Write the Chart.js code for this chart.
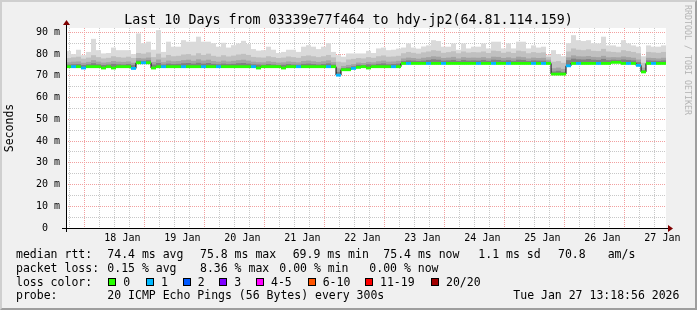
<!DOCTYPE html>
<html><head><meta charset="utf-8">
<script src="https://cdn.jsdelivr.net/npm/chart.js@4/dist/chart.umd.min.js"></script>
<style>
html,body{margin:0;padding:0;background:#f0f0f0;}
#wrap{position:relative;width:697px;height:310px;overflow:hidden;background:#f0f0f0;font-family:"DejaVu Sans Mono",monospace;color:#000;}
#frame{position:absolute;left:0;top:0;width:697px;height:310px;box-sizing:border-box;border-top:2px solid #cfcfcf;border-left:2px solid #cfcfcf;border-right:2px solid #9e9e9e;border-bottom:2px solid #9e9e9e;pointer-events:none;}
canvas{position:absolute;left:0;top:0;}
.t{position:absolute;white-space:pre;font-size:11.5px;line-height:14px;}
#title{position:absolute;left:0;width:697px;top:12px;text-align:center;font-size:13.3px;line-height:16px;white-space:pre;}
#tag{position:absolute;left:682px;top:5px;font-size:8.3px;line-height:10px;color:#b4b4b4;white-space:pre;transform-origin:0 0;transform:translate(11px,0) rotate(90deg);}
.sq{position:absolute;width:6px;height:6px;border:1px solid #000;}
</style></head>
<body>
<div id="wrap">
<canvas id="c" width="697" height="310"></canvas>
<div id="title">Last 10 Days from 03339e77f464 to hdy-jp2(64.81.114.159)</div>
<div id="tag">RRDTOOL / TOBI OETIKER</div>
<div id="legend"></div>
<div id="frame"></div>
</div>
<script>
// ---- data ----
const dayLabels = ['18 Jan','19 Jan','20 Jan','21 Jan','22 Jan','23 Jan','24 Jan','25 Jan','26 Jan','27 Jan'];
const yTicks = [0,5,10,15,20,25,30,35,40,45,50,55,60,65,70,75,80,85,90];
// 120 two-hour bins, ms
const median = [
74.2,74.2,74.2,73.6,74.2,74.2,74.2,73.6,74.2,73.6,74.2,74.2,74.2,73.4,76.0,76.0,76.0,73.6,74.2,74.2,
74.2,74.2,74.2,74.2,74.2,74.2,74.2,74.2,74.2,74.2,74.2,74.2,74.2,74.2,74.2,74.2,74.2,74.2,73.6,74.2,
74.2,74.2,74.2,73.6,74.2,74.2,74.2,74.2,74.2,74.2,74.2,74.2,74.2,74.2,70.3,72.8,72.8,73.4,73.9,74.2,
73.6,74.2,74.2,74.2,74.2,74.2,74.2,75.7,75.7,75.7,75.7,75.7,75.7,75.7,75.7,75.7,75.7,75.7,75.7,75.7,
75.7,75.7,75.7,75.7,75.7,75.7,75.7,75.7,75.7,75.7,75.7,75.7,75.7,75.7,75.7,75.7,75.7,70.8,70.8,70.8,
74.6,75.7,75.7,75.7,75.7,75.7,75.7,75.7,75.7,76.2,76.2,75.7,75.7,75.7,74.8,71.8,75.7,75.7,75.7,75.7];
const lostPings = [
0,1,0,1,0,0,0,0,0,0,0,0,0,1,0,1,0,0,0,1,
0,0,0,1,0,0,0,1,0,0,1,0,0,0,0,0,0,1,0,0,
0,0,0,0,0,0,1,0,0,0,0,0,1,0,1,0,0,1,0,0,
0,0,0,0,0,1,0,0,1,0,0,0,1,0,0,1,0,0,0,0,
0,0,1,0,0,1,0,0,1,0,0,0,0,1,0,1,0,0,0,0,
1,0,1,0,0,0,1,0,0,0,0,0,1,0,1,0,0,1,0,0];
const smokeMax = [
81.4,80.0,82.0,79.5,81.0,87.0,81.8,80.3,80.5,83.0,81.8,81.8,81.8,80.0,89.5,85.0,85.7,82.0,91.0,81.0,
85.7,83.4,83.4,86.4,85.7,85.7,88.0,85.7,85.7,85.0,83.4,85.2,83.0,84.1,84.9,86.1,84.6,82.3,81.6,81.8,
83.4,82.0,80.5,81.0,82.0,82.0,81.0,83.4,84.1,83.4,82.3,83.4,85.0,81.0,79.5,78.8,80.3,80.3,80.3,80.3,
81.5,80.5,82.6,83.0,81.8,82.0,82.5,83.0,84.9,83.0,82.5,83.5,84.0,86.4,86.0,83.4,83.4,84.9,82.0,84.9,
82.6,83.4,83.4,84.9,82.6,85.7,85.7,82.6,84.9,82.6,85.7,85.7,82.6,84.0,83.0,83.4,79.5,81.8,80.0,79.0,
85.0,88.7,86.4,86.0,86.4,85.0,84.9,88.0,84.0,84.0,83.4,86.4,84.9,84.0,83.4,79.0,84.0,83.4,83.4,84.0];
const smokeP90 = [
78.2,78.5,78.8,77.9,78.4,79.5,78.6,78.0,78.3,79.0,78.6,78.4,78.8,78.2,80.5,80.2,80.8,78.6,80.2,78.4,
79.6,79.0,79.2,79.8,80.0,79.4,80.4,79.6,80.2,79.2,78.8,79.5,78.9,79.3,79.8,80.1,79.6,78.7,78.5,78.4,
79.0,78.6,78.2,78.4,78.9,78.6,78.3,79.1,79.4,79.0,78.6,79.0,79.6,78.5,76.5,76.2,77.5,77.8,78.2,78.0,
78.6,78.3,79.0,79.4,78.8,78.9,79.2,80.4,81.0,80.6,80.2,80.8,81.2,81.8,81.5,80.6,80.9,81.3,80.4,81.2,
80.7,80.9,80.8,81.2,80.5,81.6,81.4,80.6,81.1,80.5,81.6,81.3,80.4,80.9,80.6,80.8,78.6,76.5,76.8,76.0,
81.2,82.6,82.0,81.8,82.2,81.5,81.4,82.4,81.2,81.0,80.8,81.8,81.4,81.0,80.4,76.0,81.0,80.8,80.6,81.0];
const smokeP75 = [
76.3,76.5,76.6,76.0,76.4,77.2,76.5,76.1,76.3,76.8,76.5,76.4,76.6,76.0,78.2,78.0,78.4,76.4,77.5,76.3,
77.0,76.7,76.8,77.2,77.4,76.9,77.6,77.0,77.4,76.8,76.5,77.0,76.6,76.9,77.2,77.4,77.0,76.5,76.3,76.2,
76.7,76.4,76.1,76.2,76.6,76.4,76.2,76.8,77.0,76.7,76.4,76.7,77.1,76.3,73.5,74.5,75.0,75.4,76.1,75.9,
76.4,76.2,76.7,77.0,76.5,76.6,76.9,78.0,78.4,78.2,77.9,78.3,78.6,79.0,78.8,78.2,78.4,78.7,78.0,78.6,
78.3,78.4,78.3,78.6,78.1,78.8,78.7,78.2,78.5,78.1,78.8,78.6,78.0,78.4,78.2,78.3,77.4,73.5,73.8,73.2,
78.5,79.4,79.0,78.9,79.1,78.7,78.6,79.2,78.5,78.6,78.5,78.9,78.6,78.3,77.5,73.8,78.3,78.2,78.0,78.3];
const smokeP60 = [
75.2,75.3,75.4,75.0,75.3,75.8,75.3,75.0,75.2,75.5,75.3,75.2,75.4,75.0,77.0,76.9,77.2,75.2,75.9,75.2,
75.6,75.4,75.5,75.8,75.9,75.6,76.0,75.6,75.9,75.5,75.3,75.6,75.4,75.5,75.8,75.9,75.6,75.3,75.2,75.1,
75.4,75.2,75.0,75.1,75.4,75.2,75.1,75.5,75.6,75.4,75.2,75.4,75.7,75.2,71.8,73.6,73.9,74.4,75.1,75.0,
75.3,75.2,75.5,75.7,75.3,75.4,75.6,76.8,77.1,77.0,76.8,77.0,77.3,77.6,77.4,77.0,77.1,77.3,76.8,77.3,
77.0,77.1,77.0,77.3,76.9,77.4,77.3,77.0,77.2,76.9,77.4,77.3,76.8,77.1,77.0,77.0,76.5,72.0,72.3,71.8,
77.2,77.9,77.6,77.5,77.7,77.4,77.3,77.8,77.2,77.4,77.3,77.5,77.3,77.1,76.3,72.6,77.1,77.0,76.9,77.1];
const lossBuckets = [
  {label:'0', max:0, color:'#26ff00'}, {label:'1', max:1, color:'#00b8ff'},
  {label:'2', max:2, color:'#0059ff'}, {label:'3', max:3, color:'#7e00ff'},
  {label:'4-5', max:5, color:'#ff00ff'}, {label:'6-10', max:10, color:'#ff5500'},
  {label:'11-19', max:19, color:'#ff0000'}, {label:'20/20', max:20, color:'#a10000'}];
const statsRtt = ['74.4 ms avg','75.8 ms max','69.9 ms min','75.4 ms now','1.1 ms sd','70.8','am/s'];
const statsLoss = ['0.15 % avg','8.36 % max','0.00 % min','0.00 % now'];
const probeText = '20 ICMP Echo Pings (56 Bytes) every 300s';
const stampText = 'Tue Jan 27 13:18:56 2026';

// ---- time axis (hours since 17 Jan 00:00) ----
const END_H = 253.45, SPAN_H = 240, BIN_H = 2;
const START_H = END_H - SPAN_H;
const centers = median.map((_, i) => START_H + BIN_H * (i + 0.5));
const lossColor = n => (lossBuckets.find(b => n <= b.max) || lossBuckets[7]).color;

// ---- layout ----
const PL = 66, PR = 666, PT = 28, PB = 228, YMAX = 92;
const FONT = '"DejaVu Sans Mono", monospace';

function band(top, color, order) {
  return {type:'bar', data: median.map((m, i) => ({x: centers[i], y: [m, top[i]]})),
    backgroundColor: color, borderWidth: 0, grouped: false, inflateAmount: 0,
    barPercentage: 1, categoryPercentage: 1, order: order};
}
const datasets = [
  band(smokeMax, '#dadada', 10),
  band(smokeP90, '#c0c0c0', 9),
  band(smokeP75, '#a4a4a4', 8),
  band(smokeP60, '#808080', 7),
  {type:'line', data: median.map((m, i) => ({x: centers[i], y: m})), stepped: 'middle',
    borderColor: '#000', borderWidth: 1, pointRadius: 0, order: 6},
  {type:'bar', data: median.map((m, i) => ({x: centers[i], y: [m - 0.65, m + 0.65]})),
    backgroundColor: lostPings.map(lossColor), borderWidth: 0, grouped: false, inflateAmount: 0,
    barPercentage: 1, categoryPercentage: 1, order: 5}
];

const frame = {
  id: 'frame',
  beforeDraw(chart) {
    const {ctx, chartArea: a} = chart;
    ctx.save(); ctx.fillStyle = '#fff';
    ctx.fillRect(a.left, a.top, a.right - a.left, a.bottom - a.top); ctx.restore();
  },
  afterDraw(chart) {
    const {ctx, chartArea: a} = chart;
    ctx.save();
    ctx.fillStyle = '#000';
    ctx.fillRect(a.left - 4, a.bottom, a.right - a.left + 6, 1);
    ctx.fillRect(a.left, a.top - 5, 1, a.bottom - a.top + 9);
    ctx.fillStyle = '#7f0000';
    ctx.beginPath(); ctx.moveTo(a.right + 2, a.bottom - 3); ctx.lineTo(a.right + 7, a.bottom + 0.5); ctx.lineTo(a.right + 2, a.bottom + 4); ctx.closePath(); ctx.fill();
    ctx.beginPath(); ctx.moveTo(a.left - 3, a.top - 3); ctx.lineTo(a.left + 0.5, a.top - 8); ctx.lineTo(a.left + 4, a.top - 3); ctx.closePath(); ctx.fill();
    ctx.restore();
  }
};

new Chart(document.getElementById('c'), {
  data: {datasets},
  options: {
    responsive: false, animation: false, devicePixelRatio: 1,
    layout: {padding: {left: 0, right: 697 - PR, top: PT, bottom: 0}},
    plugins: {legend: {display: false}, tooltip: {enabled: false}, title: {display: false}},
    scales: {
      x: {type: 'linear', min: START_H, max: END_H, z: 1, offset: false,
        afterFit(s) { s.height = 310 - PB; },
        afterBuildTicks(s) {
          const t = [];
          for (let h = Math.ceil(START_H / 6) * 6; h < END_H; h += 6) t.push({value: h});
          s.ticks = t;
        },
        grid: {drawTicks: false, lineWidth: 1,
          color: c => (c.tick && c.tick.value % 24 === 0) ? '#f2a0a0' : '#c8c8c8'},
        border: {display: false, dash: [1, 1]},
        ticks: {autoSkip: false, maxRotation: 0, minRotation: 0, padding: 4, color: '#000',
          font: {family: FONT, size: 10},
          callback: v => (v % 24 === 12) ? (dayLabels[(v - 12) / 24 - 1] || '') : ''}
      },
      y: {type: 'linear', min: 0, max: YMAX, z: 1,
        afterFit(s) { s.width = PL; },
        afterBuildTicks(s) { s.ticks = yTicks.map(v => ({value: v})); },
        grid: {drawTicks: false, lineWidth: 1,
          color: c => (c.tick && c.tick.value % 10 === 0) ? '#f2a0a0' : '#c8c8c8'},
        border: {display: false, dash: [1, 1]},
        ticks: {autoSkip: false, padding: 6, color: '#000', font: {family: FONT, size: 10},
          callback: v => v === 0 ? '0  ' : (v % 10 === 0 ? v + ' m' : '')},
        title: {display: true, text: 'Seconds', color: '#000', font: {family: FONT, size: 11.5},
          padding: {top: 3, bottom: 0}}
      }
    }
  },
  plugins: [frame]
});

// ---- legend text (DOM) ----
const L = document.getElementById('legend');
function put(text, x, y) {
  const d = document.createElement('div'); d.className = 't';
  d.style.left = x + 'px'; d.style.top = y + 'px'; d.textContent = text; L.appendChild(d);
}
const rows = [247.3, 261, 274.7, 288.3];
put('median rtt:', 16, rows[0]);
[107.3, 200, 292.7, 383.3, 478.3, 558, 607.7].forEach((x, i) => put(statsRtt[i], x, rows[0]));
put('packet loss:', 16, rows[1]);
[107.3, 200, 279.3, 369.3].forEach((x, i) => put(statsLoss[i], x, rows[1]));
put('loss color:', 16, rows[2]);
const sqX = [108.3, 146, 182.7, 219.3, 256, 307.7, 365, 431];
lossBuckets.forEach((b, i) => {
  const s = document.createElement('div'); s.className = 'sq';
  s.style.left = sqX[i] + 'px'; s.style.top = '277.5px'; s.style.background = b.color; L.appendChild(s);
  put(b.label, sqX[i] + 15, rows[2]);
});
put('probe:', 16, rows[3]);
put(probeText, 107.3, rows[3]);
put(stampText, 513.3, rows[3]);
</script>
</body></html>
